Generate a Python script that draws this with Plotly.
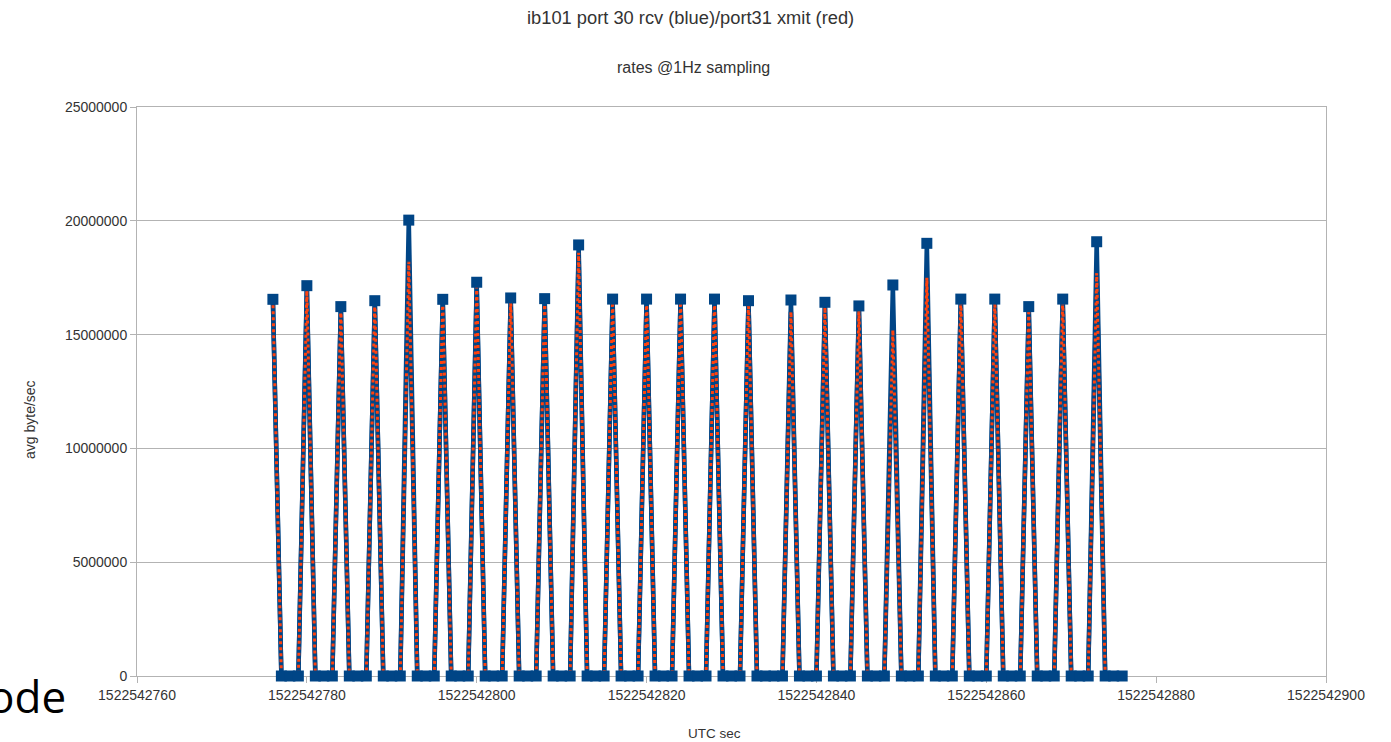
import plotly.graph_objects as go

# sample timestamps (UTC sec, 1 Hz)
times = [
    1522542776, 1522542777, 1522542778, 1522542779, 1522542780, 1522542781, 1522542782, 1522542783,
    1522542784, 1522542785, 1522542786, 1522542787, 1522542788, 1522542789, 1522542790, 1522542791,
    1522542792, 1522542793, 1522542794, 1522542795, 1522542796, 1522542797, 1522542798, 1522542799,
    1522542800, 1522542801, 1522542802, 1522542803, 1522542804, 1522542805, 1522542806, 1522542807,
    1522542808, 1522542809, 1522542810, 1522542811, 1522542812, 1522542813, 1522542814, 1522542815,
    1522542816, 1522542817, 1522542818, 1522542819, 1522542820, 1522542821, 1522542822, 1522542823,
    1522542824, 1522542825, 1522542826, 1522542827, 1522542828, 1522542829, 1522542830, 1522542831,
    1522542832, 1522542833, 1522542834, 1522542835, 1522542836, 1522542837, 1522542838, 1522542839,
    1522542840, 1522542841, 1522542842, 1522542843, 1522542844, 1522542845, 1522542846, 1522542847,
    1522542848, 1522542849, 1522542850, 1522542851, 1522542852, 1522542853, 1522542854, 1522542855,
    1522542856, 1522542857, 1522542858, 1522542859, 1522542860, 1522542861, 1522542862, 1522542863,
    1522542864, 1522542865, 1522542866, 1522542867, 1522542868, 1522542869, 1522542870, 1522542871,
    1522542872, 1522542873, 1522542874, 1522542875, 1522542876,
]

# port 30 rcv (blue), avg byte/sec
rcv = [
    16550000, 0, 0, 0, 17150000, 0, 0, 0, 16230000, 0, 0, 0, 16490000, 0, 0, 0,
    20030000, 0, 0, 0, 16550000, 0, 0, 0, 17300000, 0, 0, 0, 16610000, 0, 0, 0,
    16580000, 0, 0, 0, 18940000, 0, 0, 0, 16560000, 0, 0, 0, 16560000, 0, 0, 0,
    16560000, 0, 0, 0, 16560000, 0, 0, 0, 16490000, 0, 0, 0, 0, 16520000, 0, 0,
    0, 16420000, 0, 0, 0, 16260000, 0, 0, 0, 17180000, 0, 0, 0, 19010000, 0, 0,
    0, 16560000, 0, 0, 0, 16560000, 0, 0, 0, 16230000, 0, 0, 0, 16560000, 0, 0,
    0, 19080000, 0, 0, 0,
]

# port 31 xmit (red), avg byte/sec
xmit = [
    16550000, 0, 0, 0, 16950000, 0, 0, 0, 16230000, 0, 0, 0, 16490000, 0, 0, 0,
    18200000, 0, 0, 0, 16550000, 0, 0, 0, 17100000, 0, 0, 0, 16610000, 0, 0, 0,
    16580000, 0, 0, 0, 18600000, 0, 0, 0, 16560000, 0, 0, 0, 16560000, 0, 0, 0,
    16560000, 0, 0, 0, 16560000, 0, 0, 0, 16490000, 0, 0, 0, 0, 16000000, 0, 0,
    0, 16200000, 0, 0, 0, 16100000, 0, 0, 0, 15200000, 0, 0, 0, 17500000, 0, 0,
    0, 16560000, 0, 0, 0, 16560000, 0, 0, 0, 16100000, 0, 0, 0, 16560000, 0, 0,
    0, 17700000, 0, 0, 0,
]

x_ticks = [1522542760, 1522542780, 1522542800, 1522542820, 1522542840, 1522542860, 1522542880, 1522542900]
y_ticks = [0, 5000000, 10000000, 15000000, 20000000, 25000000]

BLUE = "#004586"
ORANGE = "#ff420e"
GRID = "#b3b3b3"
TXT = "#333333"
FONT = "Liberation Sans"

fig = go.Figure()
fig.add_trace(go.Scatter(x=times, y=rcv, mode="lines", line=dict(color=BLUE, width=4.5),
                         name="port 30 rcv", showlegend=False, hoverinfo="skip"))
fig.add_trace(go.Scatter(x=times, y=xmit, mode="lines", line=dict(color=BLUE, width=4.5),
                         showlegend=False, hoverinfo="skip"))
fig.add_trace(go.Scatter(x=times, y=xmit, mode="lines",
                         line=dict(color=ORANGE, width=3, dash="3px,3px"),
                         name="port31 xmit", showlegend=False))
fig.add_trace(go.Scatter(x=times, y=rcv, mode="markers", cliponaxis=False,
                         marker=dict(symbol="square", size=11, color=BLUE),
                         showlegend=False))

fig.update_layout(
    width=1391, height=742,
    margin=dict(l=137, r=65, t=107, b=66),
    paper_bgcolor="white", plot_bgcolor="white",
    font=dict(family=FONT, color=TXT, size=14),
    xaxis=dict(range=[1522542760, 1522542900], tickvals=x_ticks, tickformat="d",
               showgrid=False, showline=True, linecolor=GRID, linewidth=1, mirror=True,
               ticks="outside", ticklen=6, tickcolor=GRID, zeroline=False,
               layer="below traces",
               tickfont=dict(family=FONT, size=14, color=TXT)),
    yaxis=dict(range=[0, 25000000], tickvals=y_ticks, tickformat="d",
               showgrid=True, gridcolor=GRID, gridwidth=1, showline=True, linecolor=GRID,
               linewidth=1, mirror=True, ticks="outside", ticklen=6, tickcolor=GRID,
               zeroline=False, layer="below traces",
               tickfont=dict(family=FONT, size=14, color=TXT)),
    annotations=[
        dict(text="ib101 port 30 rcv (blue)/port31 xmit (red)", xref="paper", yref="paper",
             x=(690 - 137) / 1189, y=(676 - 17) / 569, xanchor="center", yanchor="middle",
             showarrow=False, font=dict(family=FONT, size=18.3, color=TXT)),
        dict(text="rates @1Hz sampling", xref="paper", yref="paper",
             x=(693 - 137) / 1189, y=(676 - 68) / 569, xanchor="center", yanchor="middle",
             showarrow=False, font=dict(family=FONT, size=16, color=TXT)),
        dict(text="UTC sec", xref="paper", yref="paper",
             x=(714 - 137) / 1189, y=(676 - 733) / 569, xanchor="center", yanchor="middle",
             showarrow=False, font=dict(family=FONT, size=13.5, color=TXT)),
        dict(text="avg byte/sec", xref="paper", yref="paper", textangle=-90,
             x=(30 - 137) / 1189, y=(676 - 420) / 569, xanchor="center", yanchor="middle",
             showarrow=False, font=dict(family=FONT, size=14, color=TXT)),
        dict(text="ode", xref="paper", yref="paper",
             x=(-14 - 137) / 1189, y=(676 - 696) / 569, xanchor="left", yanchor="middle",
             showarrow=False, font=dict(family="Open Sans", size=44, color="#000000")),
    ],
)

fig.write_html("out.html")
